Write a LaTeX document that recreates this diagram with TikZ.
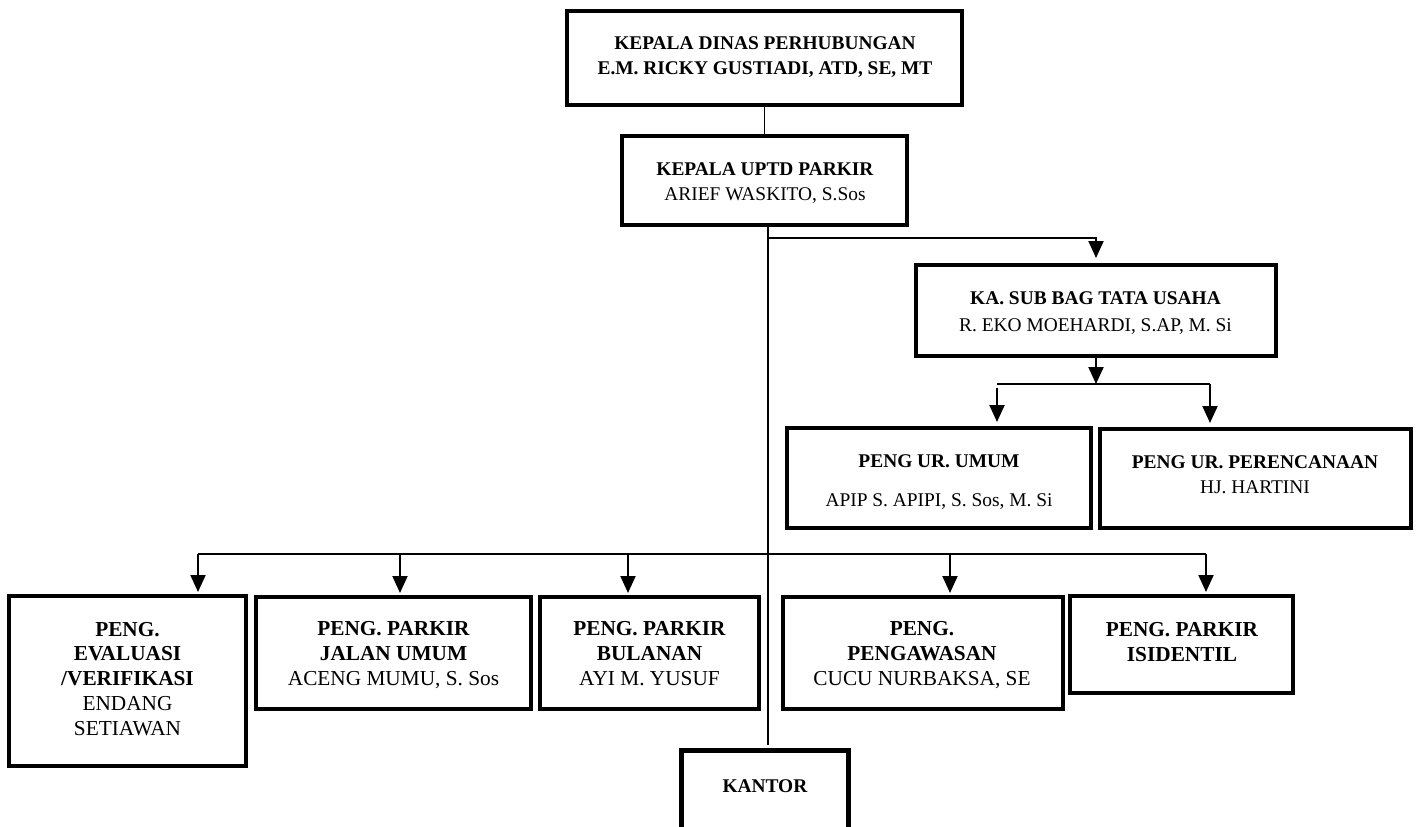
\documentclass[tikz,border=0pt]{standalone}
\usepackage{fontspec}
\setmainfont{Liberation Serif}
\usetikzlibrary{arrows.meta}
\begin{document}
\begin{tikzpicture}[x=1pt,y=-1pt,
  box/.style={draw, line width=4pt, rectangle, inner sep=0pt},
  camb/.style={font=\fontsize{19.4}{25.2}\selectfont, align=center, inner sep=0pt, anchor=base},
  tms/.style={font=\fontsize{21.3}{24.7}\selectfont, align=center, inner sep=0pt, anchor=base},
  conn/.style={line width=2pt},
  spine/.style={line width=1.4pt},
  arr/.style={line width=2pt, -{Triangle[width=15pt,length=17pt]}},
]
\useasboundingbox (0,0) rectangle (1417,827);
\clip (0,0) rectangle (1417,827);

% boxes
\node[box, minimum width=395pt, minimum height=94pt] (top) at (764.5,58) {};
\node[box, minimum width=285pt, minimum height=89pt] (uptd) at (764.5,180.5) {};
\node[box, minimum width=360pt, minimum height=91pt] (subbag) at (1096,310.5) {};
\node[box, minimum width=304pt, minimum height=100pt] (umum) at (939,478) {};
\node[box, minimum width=311pt, minimum height=99pt] (renc) at (1255.5,478.5) {};
\node[box, minimum width=237pt, minimum height=170pt] (eval) at (127.5,681) {};
\node[box, minimum width=275pt, minimum height=112pt] (jalan) at (393.5,653) {};
\node[box, minimum width=219pt, minimum height=112pt] (bulan) at (649.5,653) {};
\node[box, minimum width=280pt, minimum height=112pt] (awas) at (923,653) {};
\node[box, minimum width=223pt, minimum height=97pt] (isid) at (1181.5,644.5) {};
\node[box, line width=5pt, minimum width=167pt, minimum height=120pt] (kantor) at (765,810.5) {};

% texts (anchor = baseline of the last line)
\node[camb] (ttop) at (765,74.4) {\textbf{KEPALA DINAS PERHUBUNGAN}\\\textbf{E.M. RICKY GUSTIADI, ATD, SE, MT}};
\node[camb] (tuptd) at (765,200.4) {\textbf{KEPALA UPTD PARKIR}\\ARIEF WASKITO, S.Sos};
\node[camb] (tsub) at (1095.5,331.4) {\textbf{KA. SUB BAG TATA USAHA}\\[1.5pt]R. EKO MOEHARDI, S.AP, M. Si};
\node[camb] (tumum) at (939,506.4) {\textbf{PENG UR. UMUM}\\[13.5pt]APIP S. APIPI, S. Sos, M. Si};
\node[camb] (trenc) at (1255,493.4) {\textbf{PENG UR. PERENCANAAN}\\HJ. HARTINI};
\node[tms] (teval) at (127.5,735) {\textbf{PENG.}\\\textbf{EVALUASI}\\\textbf{/VERIFIKASI}\\ENDANG\\SETIAWAN};
\node[tms] (tjalan) at (393.5,685) {\textbf{PENG. PARKIR}\\\textbf{JALAN UMUM}\\ACENG MUMU, S. Sos};
\node[tms] (tbulan) at (649.5,685) {\textbf{PENG. PARKIR}\\\textbf{BULANAN}\\AYI M. YUSUF};
\node[tms] (tawas) at (922,685) {\textbf{PENG.}\\\textbf{PENGAWASAN}\\CUCU NURBAKSA, SE};
\node[tms] (tisid) at (1182,661) {\textbf{PENG. PARKIR}\\\textbf{ISIDENTIL}};
\node[camb] (tkantor) at (765,792.4) {\textbf{KANTOR}};

% coordinates
\coordinate (sp) at (768,0);
\coordinate (j1) at (768,238);
\coordinate (j2) at (1096,384);
\coordinate (a4) at (997,384);
\coordinate (a5) at (1210,384);
\coordinate (b1) at (198,554);
\coordinate (b2) at (400,554);
\coordinate (b3) at (628,554);
\coordinate (b4) at (950,554);
\coordinate (b5) at (1206,554);

% connectors
\draw[spine] (top.south) -- (uptd.north);
\draw[spine, shorten >=3pt] (uptd.south -| sp) -- (kantor.north -| sp);
\draw[arr, shorten >=5pt] (j1) -| (subbag.north);
\draw[arr] (subbag.south) -- (j2);
\draw[conn] (a4) -- (a5);
\draw[arr, shorten >=4pt] ([yshift=-4pt]a4) -- (a4 |- umum.north);
\draw[arr, shorten >=4pt] (a5) -- (a5 |- renc.north);
\draw[conn] (b1) -- (b5);
\draw[arr, shorten >=2pt] (b1) -- (b1 |- eval.north);
\draw[arr, shorten >=2pt] (b2) -- (b2 |- jalan.north);
\draw[arr, shorten >=2pt] (b3) -- (b3 |- bulan.north);
\draw[arr, shorten >=2pt] (b4) -- (b4 |- awas.north);
\draw[arr, shorten >=2pt] (b5) -- (b5 |- isid.north);
\end{tikzpicture}
\end{document}
